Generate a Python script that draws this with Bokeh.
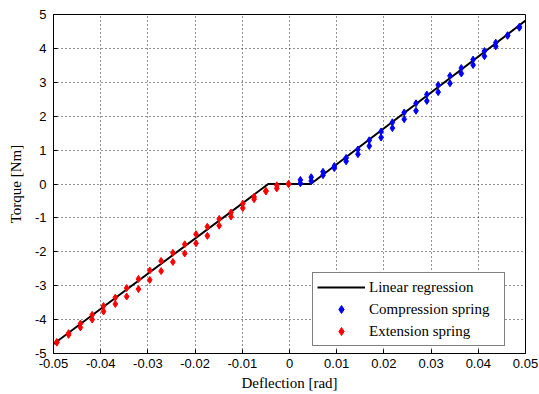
from bokeh.plotting import figure
from bokeh.models import FixedTicker, Legend, LegendItem, ColumnDataSource
from bokeh.embed import file_html
from bokeh.resources import INLINE

# Regression line (breakpoints)
reg_x = [-0.05, -0.0045, 0.0045, 0.05]
reg_y = [-4.72, 0.0, 0.0, 4.82]

# Compression spring measurements (two readings per deflection)
comp_x = [0.0023, 0.0046, 0.0071, 0.0095, 0.0120, 0.0145, 0.0169, 0.0194, 0.0218, 0.0243,
          0.0268, 0.0291, 0.0315, 0.0340, 0.0364, 0.0389, 0.0413, 0.0437, 0.0462, 0.0487]
comp_y_hi = [0.12, 0.20, 0.36, 0.53, 0.77, 1.02, 1.29, 1.55, 1.82, 2.11,
             2.38, 2.64, 2.92, 3.19, 3.42, 3.67, 3.92, 4.17, 4.39, 4.64]
comp_y_lo = [0.02, 0.09, 0.26, 0.47, 0.67, 0.88, 1.12, 1.37, 1.65, 1.91,
             2.16, 2.45, 2.71, 2.97, 3.26, 3.51, 3.77, 4.06, 4.37, 4.61]

# Extension spring measurements (two readings per deflection)
ext_x = [-0.0493, -0.0468, -0.0443, -0.0418, -0.0394, -0.0369, -0.0345, -0.0320, -0.0296, -0.0272,
         -0.0247, -0.0222, -0.0198, -0.0174, -0.0149, -0.0124, -0.0099, -0.0075, -0.0050, -0.0027, -0.0002]
ext_y_hi = [-4.66, -4.40, -4.12, -3.86, -3.60, -3.35, -3.07, -2.80, -2.55, -2.27,
            -2.03, -1.78, -1.48, -1.26, -1.03, -0.84, -0.58, -0.38, -0.20, -0.04, 0.0]
ext_y_lo = [-4.68, -4.45, -4.23, -4.00, -3.76, -3.54, -3.32, -3.10, -2.83, -2.57,
            -2.30, -2.05, -1.75, -1.53, -1.23, -0.96, -0.71, -0.45, -0.22, -0.13, 0.0]

x_ticks = [-0.05, -0.04, -0.03, -0.02, -0.01, 0.0, 0.01, 0.02, 0.03, 0.04, 0.05]
x_tick_labels = ["-0.05", "-0.04", "-0.03", "-0.02", "-0.01", "0", "0.01", "0.02", "0.03", "0.04", "0.05"]
y_ticks = [-5, -4, -3, -2, -1, 0, 1, 2, 3, 4, 5]
y_tick_labels = ["-5", "-4", "-3", "-2", "-1", "0", "1", "2", "3", "4", "5"]

p = figure(width=539, height=394, x_range=(-0.05, 0.05), y_range=(-5, 5),
           output_backend="svg", toolbar_location=None,
           min_border_left=53, min_border_right=14, min_border_top=14, min_border_bottom=41)

p.outline_line_color = "black"
p.outline_line_width = 1
p.outline_line_alpha = 1.0

for ax in (p.xaxis[0], p.yaxis[0]):
    ax.axis_line_color = "black"
    ax.major_tick_in = 4
    ax.major_tick_out = 0
    ax.minor_tick_in = 0
    ax.minor_tick_out = 0
    ax.major_label_text_font = "Liberation Sans"
    ax.major_label_text_font_size = "13px"
    ax.major_label_text_color = "black"
    ax.axis_label_text_font = "Liberation Serif"
    ax.axis_label_text_font_size = "15px"
    ax.axis_label_text_font_style = "normal"
    ax.axis_label_text_color = "black"

p.xaxis.ticker = FixedTicker(ticks=x_ticks)
p.yaxis.ticker = FixedTicker(ticks=y_ticks)
p.xaxis.major_label_overrides = {t: l for t, l in zip(x_ticks, x_tick_labels)}
p.yaxis.major_label_overrides = {t: l for t, l in zip(y_ticks, y_tick_labels)}
p.xaxis.axis_label = "Deflection [rad]"
p.yaxis.axis_label = "Torque [Nm]"
p.xaxis.major_label_standoff = 5
p.xaxis.axis_label_standoff = 4
p.yaxis.major_label_standoff = 7
p.yaxis.axis_label_standoff = 8

for g in (p.xgrid[0], p.ygrid[0]):
    g.grid_line_color = "#222222"
    g.grid_line_dash = "1 3"
    g.grid_line_width = 1

line_r = p.line(reg_x, reg_y, line_color="black", line_width=2)

comp_src = ColumnDataSource(dict(x=comp_x + comp_x, y=comp_y_hi + comp_y_lo))
ext_src = ColumnDataSource(dict(x=ext_x + ext_x, y=ext_y_hi + ext_y_lo))
comp_r = p.scatter("x", "y", source=comp_src, marker="diamond", size=7,
                   fill_color="blue", line_color="blue", line_width=1)
ext_r = p.scatter("x", "y", source=ext_src, marker="diamond", size=7,
                  fill_color="red", line_color="red", line_width=1)

legend = Legend(items=[
    LegendItem(label="Linear regression", renderers=[line_r]),
    LegendItem(label="Compression spring", renderers=[comp_r]),
    LegendItem(label="Extension spring", renderers=[ext_r]),
], location=(259, 7))
legend.border_line_color = "black"
legend.border_line_width = 1
legend.background_fill_color = "white"
legend.background_fill_alpha = 1.0
legend.label_text_font = "Liberation Serif"
legend.label_text_font_size = "15px"
legend.label_text_color = "black"
legend.glyph_width = 48
legend.glyph_height = 20
legend.label_height = 20
legend.label_width = 131
legend.label_standoff = 4
legend.spacing = 2
legend.padding = 4
legend.margin = 0
p.add_layout(legend)

open("out.html", "w").write(file_html(p, INLINE))
